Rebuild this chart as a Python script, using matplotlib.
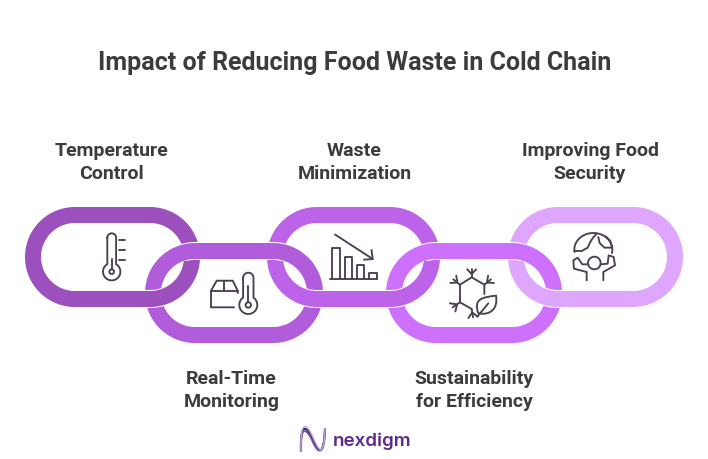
import numpy as np
import matplotlib
matplotlib.use("Agg")
import matplotlib.pyplot as plt
from matplotlib.patches import Circle, PathPatch, Rectangle
from matplotlib.path import Path

title = "Impact of Reducing Food Waste in Cold Chain"
labels = ["Temperature\nControl", "Real-Time\nMonitoring", "Waste\nMinimization",
          "Sustainability\nfor Efficiency", "Improving Food\nSecurity"]
label_x = [111.5, 231.5, 354.5, 474, 590]
label_y = [162.5, 390.5, 162.5, 390.5, 162.5]
link_left = [25, 145, 267, 386, 508]
link_right = [200, 323, 440, 562, 683]
link_top = [208, 244, 208, 244, 208]
link_colors = ["#9C50BE", "#B05CDB", "#BC63E9", "#CD71FD", "#DFA6FE"]

ink = "#4A4050"
text_color = "#3C3C3C"
px = 72 / 100  # points per pixel at dpi 100

plt.rcParams["font.family"] = ["Roboto", "DejaVu Sans"]
fig = plt.figure(figsize=(7.08, 4.6), dpi=100)
ax = fig.add_axes([0, 0, 1, 1])
ax.set_xlim(0, 708)
ax.set_ylim(460, 0)
ax.axis("off")


def stadium(left, right, top, height=100, width=16):
    # centre line of a chain link
    r = (height - width) / 2
    x0, x1 = left + width / 2 + r, right - width / 2 - r
    cy = top + height / 2
    t1 = np.linspace(-np.pi / 2, np.pi / 2, 60)
    t2 = np.linspace(np.pi / 2, 3 * np.pi / 2, 60)
    xs = np.r_[x1 + r * np.cos(t1), x0 + r * np.cos(t2)]
    ys = np.r_[cy + r * np.sin(t1), cy + r * np.sin(t2)]
    return np.c_[xs, ys]


def draw_link(i, clip=None, z=1):
    pts = stadium(link_left[i], link_right[i], link_top[i])
    path = Path(np.r_[pts, pts[:1]], closed=True)
    for col, w in (("white", 18), (link_colors[i], 16)):
        p = PathPatch(path, fc="none", ec=col, lw=w * px, zorder=z)
        ax.add_patch(p)
        if clip is not None:
            p.set_clip_path(clip)


for i in (0, 2, 4):
    draw_link(i, z=1)
for i in (1, 3):
    draw_link(i, z=2)
# the lower part of the upper links passes in front of the lower links
front = Rectangle((0, 262), 708, 60, transform=ax.transData)
for i in (0, 2, 4):
    draw_link(i, clip=front, z=3)


def line(xs, ys, lw=1.35):
    ax.plot(xs, ys, color=ink, lw=lw, solid_capstyle="round", solid_joinstyle="round", zorder=5)


def ring(x, y, r, lw=1.35):
    ax.add_patch(Circle((x, y), r, fc="none", ec=ink, lw=lw, zorder=5))


def thermometer(cx, top, bulb_y, half, r, inner, stem_top):
    a = np.arcsin(half / r)
    t = np.linspace(-np.pi / 2 + a, 3 * np.pi / 2 - a, 40)
    cap = np.linspace(np.pi, 2 * np.pi, 20)
    xs = np.r_[cx + half * np.cos(cap), cx + r * np.cos(t), cx - half]
    ys = np.r_[top + half + half * np.sin(cap), bulb_y + r * np.sin(t), top + half]
    line(xs, ys)
    ring(cx, bulb_y, inner)
    line([cx, cx], [stem_top, bulb_y - inner])


# thermometer with ticks
thermometer(111.7, 234.3, 272.7, 4.4, 8.7, 2.3, 260)
for y in (240.7, 250.7, 260.7):
    line([119.3, 124.7], [y, y])

# box and thermometer
line([234, 211, 211, 216.7, 232.7, 237.7, 237.7], [308.3, 308.3, 291.7, 281.7, 281.7, 291.7, 294])
line([211, 237.7], [291.7, 291.7])
line([224, 224], [281.7, 291.7])
thermometer(248.3, 273.7, 306, 5.2, 9, 2.7, 287)

# falling bars
line([330, 377.3], [280.3, 280.3])
bar_x = [332.3, 344.7, 356.7, 369]
bar_top = [249.3, 257.7, 265.7, 274]
for x, y in zip(bar_x, bar_top):
    line([x, x, x + 7.5, x + 7.5], [280.3, y, y, 280.3])
line([335, 372.7], [235.5, 260])
line([364, 372.7, 371.5], [260.7, 260, 251])


# snowflake with leaf
def sx(v):
    return 445 + np.asarray(v) / 3


def sy(v):
    return 265 + np.asarray(v) / 3


line(sx([118, 118, 80, 45, 45, 80]), sy([90, 62, 40, 62, 115, 135]))
spokes = [(80, 40, 80, 16), (118, 62, 138, 46), (45, 62, 25, 46), (45, 115, 23, 130), (80, 135, 84, 160)]
for x0, y0, x1, y1 in spokes:
    line(sx([x0, x1]), sy([y0, y1]))
    dx, dy = x1 - x0, y1 - y0
    mx, my = x0 + dx * 0.4, y0 + dy * 0.4
    line(sx([mx + dx * 0.6 - dy * 0.55, mx, mx + dx * 0.6 + dy * 0.55]),
         sy([my + dy * 0.6 + dx * 0.55, my, my + dy * 0.6 - dx * 0.55]))
leaf = Path(np.c_[sx([100, 85, 110, 153, 160, 135, 100]), sy([148, 105, 100, 95, 135, 155, 148])],
            [Path.MOVETO, Path.CURVE4, Path.CURVE4, Path.CURVE4, Path.CURVE4, Path.CURVE4, Path.CURVE4])
ax.add_patch(PathPatch(leaf, fc="white", ec=ink, lw=1.35, zorder=5))
line(sx([97, 130]), sy([158, 118]))


# globe held up by a person
def gx(v):
    return 565 + np.asarray(v) / 3


def gy(v):
    return 228 + np.asarray(v) / 3


t = np.radians(np.linspace(172, 372, 50))
line(gx(85 + 57 * np.cos(t)), gy(68 + 50 * np.sin(t)))
line(gx([28, 50, 68, 76, 84, 95]), gy([72, 72, 62, 45, 32, 20]))
line(gx([100, 104, 118, 141, 136, 122]), gy([30, 48, 62, 62, 42, 28]))
ring(gx(88), gy(108), 6.3)
line(gx([69, 52, 38, 25, 27, 65, 65]), gy([112, 112, 92, 100, 125, 135, 160]))
line(gx([107, 128, 131, 146, 150, 115, 115]), gy([112, 110, 85, 90, 115, 135, 160]))

# logo: three thin waves forming an N
codes = [Path.MOVETO] + [Path.CURVE4] * 6
for off, col, w in ((0, "#3D2A6E", 1.6), (2.5, "#7A4FA8", 1.2), (-2.5, "#B9A6D6", 1.0)):
    p = Path([(301, 453), (300, 424 + off), (306, 425 + off), (313, 441 + off),
              (318, 452 + off), (324, 461 - off), (325, 429)], codes)
    ax.add_patch(PathPatch(p, fc="none", ec=col, lw=w, zorder=5))
ax.text(372, 441, "nexdigm", color="#5B2A8C", fontsize=13.5, fontfamily=["Inter", "DejaVu Sans"],
        fontweight="semibold", ha="center", va="center")

ax.text(355, 63, title, color=text_color, fontsize=18, fontweight="bold", ha="center", va="center")
for lab, x, y in zip(labels, label_x, label_y):
    ax.text(x, y, lab, color=text_color, fontsize=14, fontweight="bold", ha="center", va="center",
            linespacing=1.3)

fig.savefig("out.png", dpi=100, facecolor="white")
